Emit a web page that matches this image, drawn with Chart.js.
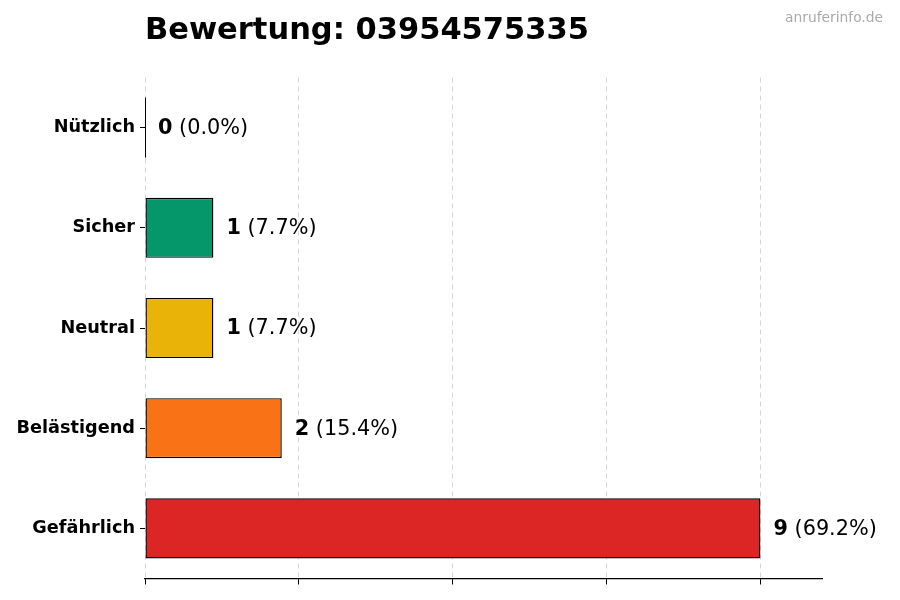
<!DOCTYPE html>
<html>
<head>
<meta charset="utf-8">
<script src="https://cdn.jsdelivr.net/npm/chart.js@4"></script>
<style>
  html, body { margin: 0; padding: 0; background: #fff; }
  #wrap { width: 900px; height: 600px; }
</style>
</head>
<body>
<div id="wrap"><canvas id="chart"></canvas></div>
<script>
const categories = ['Nützlich', 'Sicher', 'Neutral', 'Belästigend', 'Gefährlich'];
const counts = [0, 1, 1, 2, 9];
const barColors = ['#3b82f6', '#059669', '#eab308', '#f97316', '#dc2626'];
const chartTitle = 'Bewertung: 03954575335';
const watermark = 'anruferinfo.de';

const total = counts.reduce((a, b) => a + b, 0);
const FONT = "'DejaVu Sans', sans-serif";

// title, watermark and value labels
const textPlugin = {
  id: 'texts',
  afterDatasetsDraw(chart) {
    const ctx = chart.ctx;
    const area = chart.chartArea;
    ctx.save();
    ctx.textBaseline = 'middle';

    ctx.fillStyle = '#000';
    ctx.font = 'bold 30.5px ' + FONT;
    ctx.textAlign = 'left';
    ctx.fillText(chartTitle, area.left, 31);

    ctx.fillStyle = '#aaaaaa';
    ctx.font = '13.8px ' + FONT;
    ctx.textAlign = 'right';
    ctx.fillText(watermark, 883, 18);

    const meta = chart.getDatasetMeta(0);
    ctx.textAlign = 'left';
    meta.data.forEach((bar, i) => {
      const v = counts[i];
      const pct = ' (' + (v / total * 100).toFixed(1) + '%)';
      // zero-length bar still shows its edge
      if (v === 0) {
        ctx.strokeStyle = '#000';
        ctx.lineWidth = 1;
        ctx.beginPath();
        ctx.moveTo(bar.x + 0.5, bar.y - bar.height / 2);
        ctx.lineTo(bar.x + 0.5, bar.y + bar.height / 2);
        ctx.stroke();
      }
      let x = bar.x + 13;
      ctx.fillStyle = '#000';
      ctx.font = 'bold 20.8px ' + FONT;
      ctx.fillText(String(v), x, bar.y + 1);
      x += ctx.measureText(String(v)).width;
      ctx.font = '20.8px ' + FONT;
      ctx.fillText(pct, x, bar.y + 1);
    });
    ctx.restore();
  }
};

new Chart(document.getElementById('chart'), {
  type: 'bar',
  data: {
    labels: categories,
    datasets: [{
      data: counts,
      backgroundColor: barColors,
      borderColor: '#000',
      borderWidth: 1.4,
      borderSkipped: false,
      barPercentage: 0.6,
      categoryPercentage: 1
    }]
  },
  options: {
    indexAxis: 'y',
    responsive: true,
    maintainAspectRatio: false,
    animation: false,
    layout: { padding: { top: 77.5, right: 78, left: 0, bottom: 0 } },
    plugins: {
      legend: { display: false },
      tooltip: { enabled: false }
    },
    scales: {
      x: {
        min: 0,
        max: 9.9,
        z: 1,
        ticks: { display: false, stepSize: 2.25, includeBounds: false },
        grid: {
          color: 'rgba(0,0,0,0.16)',
          tickColor: '#000',
          tickLength: 6,
          lineWidth: 1
        },
        border: { display: true, color: '#000', width: 1.2, dash: [5, 4] },
        afterFit(scale) { scale.height = 21.5; }
      },
      y: {
        grid: {
          display: true,
          offset: false,
          drawOnChartArea: false,
          drawTicks: true,
          tickLength: 5,
          tickColor: '#000'
        },
        border: { display: false },
        ticks: {
          color: '#000',
          padding: 5,
          font: { family: FONT, size: 17.7, weight: 'bold' }
        },
        afterFit(scale) { scale.width = 145; }
      }
    }
  },
  plugins: [textPlugin]
});
</script>
</body>
</html>
